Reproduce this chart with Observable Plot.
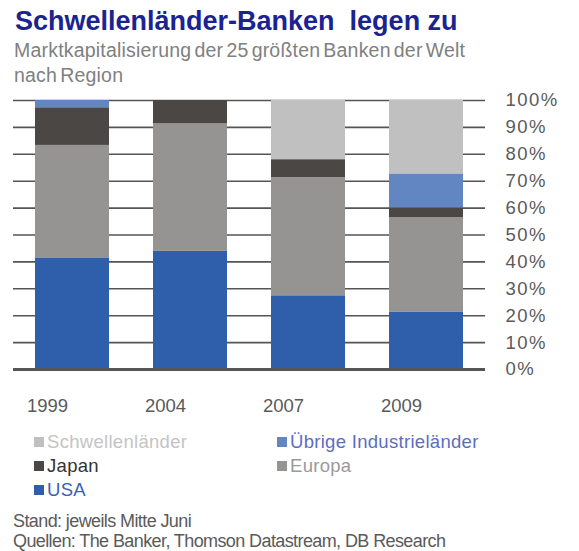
<!DOCTYPE html>
<html><head><meta charset="utf-8">
<script src="https://cdn.jsdelivr.net/npm/d3@7"></script>
<script src="https://cdn.jsdelivr.net/npm/@observablehq/plot@0.6"></script>
<style>
body{margin:0;background:#fff;font-family:"Liberation Sans",Arial,sans-serif;}
#wrap{position:relative;width:579px;height:551px;overflow:hidden;}
.abs{position:absolute;white-space:nowrap;}
#title{left:15px;top:5px;font-size:27px;font-weight:bold;color:#1b2392;letter-spacing:0px;line-height:32px;}
#sub{left:14px;top:38px;font-size:19.5px;color:#808080;line-height:25px;letter-spacing:0.2px;word-spacing:-2.5px;}
#chart{left:0;top:88px;}
#chart g[aria-label="y-axis tick label"] text{letter-spacing:1.5px;}
.leg{font-size:18.5px;display:flex;align-items:center;letter-spacing:0.3px;}
.sw{width:10px;height:10px;margin-right:3px;display:inline-block;}
#foot{left:13px;top:512px;font-size:18px;color:#5a5a5a;line-height:19.5px;letter-spacing:-0.6px;}
</style></head>
<body><div id="wrap">
<div id="title" class="abs">Schwellenländer-Banken&nbsp; legen zu</div>
<div id="sub" class="abs">Marktkapitalisierung der 25 größten Banken der Welt<br>nach Region</div>
<div id="chart" class="abs"></div>
<div id="legend"></div>
<div id="foot" class="abs">Stand: jeweils Mitte Juni<br>Quellen: The Banker, Thomson Datastream, DB Research</div>
</div>
<script>
const years = ["1999","2004","2007","2009"];
const regions = ["USA","Europa","Japan","Übrige Industrieländer","Schwellenländer"];
const usa = [41.5, 43.9, 27.4, 21.4];
const europa = [41.8, 47.4, 43.9, 35.0];
const japan = [14.0, 8.7, 6.7, 3.7];
const uebrige = [2.7, 0, 0, 12.6];
const schwellen = [0, 0, 22.0, 27.3];
const yTicks = [0,10,20,30,40,50,60,70,80,90,100];
const colors = ["#2f5eab","#959493","#4b4745","#6186c2","#c0c0c0"];
const legendItems = [
  {name:"Schwellenländer", color:"#c0c0c0", text:"#c4c4c4", col:0, row:0},
  {name:"Übrige Industrieländer", color:"#6186c2", text:"#5b6ec0", col:1, row:0},
  {name:"Japan", color:"#4b4745", text:"#333333", col:0, row:1},
  {name:"Europa", color:"#959493", text:"#9a9a9a", col:1, row:1},
  {name:"USA", color:"#2f5eab", text:"#3a5fb5", col:0, row:2}
];

const series = [usa, europa, japan, uebrige, schwellen];
const data = [];
years.forEach((y, i) => regions.forEach((r, j) => data.push({year: y, region: r, value: series[j][i]})));

const chart = Plot.plot({
  width: 579,
  height: 330,
  marginTop: 12,
  marginBottom: 49,
  marginLeft: 13,
  marginRight: 94,
  style: {fontFamily: '"Liberation Sans", Arial, sans-serif', background: "transparent"},
  x: {domain: years, paddingInner: 0.373, paddingOuter: 0.1865, label: null},
  y: {domain: [0, 100], label: null},
  color: {domain: regions, range: colors},
  marks: [
    Plot.ruleY(yTicks.filter(d => d > 0), {stroke: "#555", strokeWidth: 1.6}),
    Plot.barY(data, {x: "year", y: "value", fill: "region", order: regions}),
    Plot.ruleY([0], {stroke: "#555", strokeWidth: 3}),
    Plot.axisY(yTicks, {anchor: "right", tickSize: 0, tickPadding: 20, tickFormat: d => d + "%", fontSize: 18.5, fill: "#5a5a5a", textAnchor: "start", label: null}),
    Plot.axisX({tickSize: 0, tickPadding: 29, dx: -25, fontSize: 18.5, fill: "#5a5a5a", label: null})
  ]
});
document.getElementById("chart").appendChild(chart);

const leg = document.getElementById("legend");
legendItems.forEach(it => {
  const d = document.createElement("div");
  d.className = "abs leg";
  d.style.left = (it.col ? 277 : 34) + "px";
  d.style.top = (431 + it.row * 24) + "px";
  d.innerHTML = `<span class="sw" style="background:${it.color}"></span><span style="color:${it.text}">${it.name}</span>`;
  leg.appendChild(d);
});
</script>
</body></html>
